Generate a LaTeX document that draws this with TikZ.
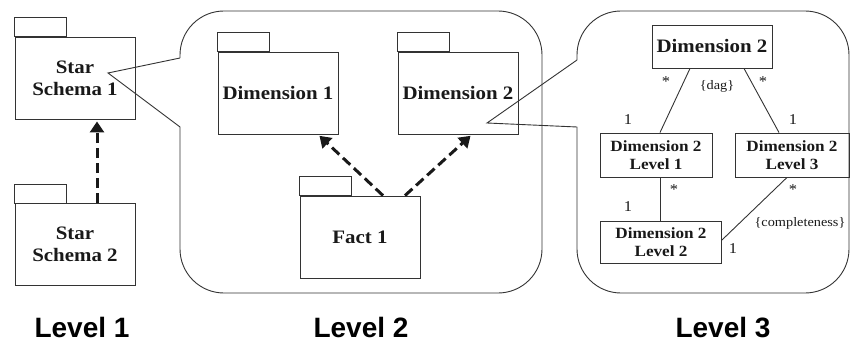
\documentclass[tikz,border=0pt]{standalone}
\usepackage{fontspec}
\setmainfont{Liberation Serif}[FakeStretch=1.1]
\newfontfamily\lvlfont{Liberation Sans}
\usetikzlibrary{arrows.meta}
\definecolor{lc}{gray}{0.2}
\definecolor{tc}{gray}{0.1}
\tikzset{
  pkg/.style={draw=lc, line width=0.9pt, minimum width=120pt, minimum height=82pt,
    inner sep=0pt, align=center, text=tc,
    font=\bfseries\fontsize{19}{22}\selectfont},
  tab/.style={draw=lc, line width=0.9pt},
  cls/.style={draw=lc, line width=0.9pt, inner sep=0pt, align=center, text=tc,
    font=\bfseries\fontsize{15.6}{18.5}\selectfont},
  bubble/.style={draw=lc, line width=0.9pt},
  assoc/.style={draw=lc, line width=0.9pt},
  dep/.style={draw=black!90, line width=3pt, dash pattern=on 10pt off 5pt,
    -{Triangle[length=11pt,width=14pt]}, shorten >=2pt},
  mult/.style={inner sep=0pt, text=tc, font=\fontsize{15}{17}\selectfont},
  cons/.style={inner sep=0pt, text=tc, font=\fontsize{13}{15}\selectfont},
  lvl/.style={inner sep=0pt, text=black, font=\lvlfont\bfseries\fontsize{28}{30}\selectfont}
}
\begin{document}
\begin{tikzpicture}[x=1pt,y=-1pt]
\useasboundingbox (0,0) rectangle (851,342);

% ---------- level 1: star schemas ----------
\node[pkg] (ss1) at (75,78) {Star\\Schema 1};
\node[pkg] (ss2) at (75,244.5) {Star\\Schema 2};

% ---------- level 2: packages of one star schema ----------
\node[pkg] (dim1) at (278,93) {Dimension 1};
\node[pkg] (dim2) at (458,93) {Dimension 2};
\node[pkg] (fact1) at (360,237) {Fact 1};

% package tabs
\foreach \n in {ss1,ss2,dim1,dim2,fact1}
  \draw[tab] (\n.north west) rectangle ([xshift=52pt,yshift=19pt]\n.north west);

% dependencies
\draw[dep] ([xshift=22pt]ss2.north) -- ([xshift=22pt]ss1.south);
\draw[dep] ([xshift=23pt]fact1.north) -- ([xshift=40pt]dim1.south);
\draw[dep] ([xshift=45pt]fact1.north) -- ([xshift=14pt]dim2.south);

% ---------- level 2 zoom bubble ----------
\coordinate (tipA) at ([xshift=33pt,yshift=5pt]ss1.center);
\coordinate (bA1) at (180,58);
\coordinate (bA2) at (180,127);
\draw[bubble, rounded corners=44pt] (bA1) -- (180,11) -- (542,11) -- (542,293) -- (180,293) -- (bA2);
\draw[bubble] (bA1) -- (tipA) -- (bA2);

% ---------- level 3: hierarchy of Dimension 2 ----------
\node[cls, minimum width=120pt, minimum height=43pt,
      font=\bfseries\fontsize{19}{22}\selectfont] (top) at (712,46.5) {Dimension 2};
\node[cls, minimum width=112pt, minimum height=44pt] (lv1) at (656,155) {Dimension 2\\Level 1};
\node[cls, minimum width=114pt, minimum height=44pt] (lv3) at (792,155) {Dimension 2\\Level 3};
\node[cls, minimum width=121pt, minimum height=42pt] (lv2) at (661,242) {Dimension 2\\Level 2};

\draw[assoc] ([xshift=-22pt]top.south) -- ([xshift=4pt]lv1.north);
\draw[assoc] ([xshift=32pt]top.south) -- ([xshift=-13pt]lv3.north);
\draw[assoc] ([xshift=4pt]lv1.south) -- ([xshift=4pt]lv1.south |- lv2.north);
\draw[assoc] ([xshift=-5pt]lv3.south) -- ([yshift=2pt]lv2.east);

% multiplicities and constraints
\node[mult] (m1) at (666,82) {*};
\node[mult] (m2) at (763,82) {*};
\node[cons] (c1) at (717,86) {\{dag\}};
\node[mult] (m3) at (628,120) {1};
\node[mult] (m4) at (793,120) {1};
\node[mult] (m5) at (674,190) {*};
\node[mult] (m6) at (793,190) {*};
\node[mult] (m7) at (628,207) {1};
\node[cons] (c2) at (800,223) {\{completeness\}};
\node[mult] (m8) at (733,249) {1};

% ---------- level 3 zoom bubble ----------
\coordinate (tipB) at ([xshift=29pt,yshift=-30pt]dim2.center);
\coordinate (bB1) at (577,60);
\coordinate (bB2) at (577,127);
\draw[bubble, rounded corners=44pt] (bB1) -- (577,11) -- (849,11) -- (849,293) -- (577,293) -- (bB2);
\draw[bubble] (bB1) -- (tipB) -- (bB2);

% ---------- captions ----------
\node[lvl] (cap1) at (82,327.5) {Level 1};
\node[lvl] (cap2) at (361,327.5) {Level 2};
\node[lvl] (cap3) at (723,327.5) {Level 3};
\end{tikzpicture}
\end{document}
